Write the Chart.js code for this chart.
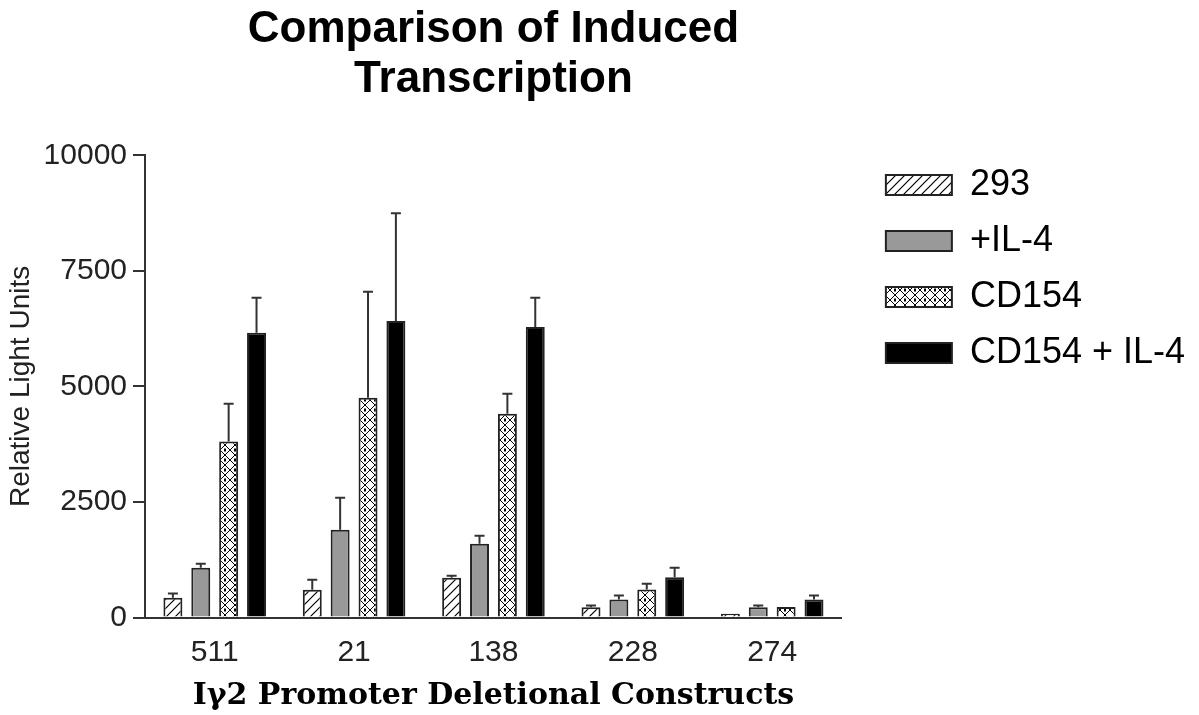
<!DOCTYPE html>
<html>
<head>
<meta charset="UTF-8">
<script src="https://cdn.jsdelivr.net/npm/chart.js@4.4.1/dist/chart.umd.min.js"></script>
<style>
  html, body { margin: 0; padding: 0; background: #fff; }
  #wrap { width: 1199px; height: 715px; }
</style>
</head>
<body>
<div id="wrap"><canvas id="chart"></canvas></div>
<script>
// categories and values
var categories = ['511', '21', '138', '228', '274'];
var seriesNames = ['293', '+IL-4', 'CD154', 'CD154 + IL-4'];
var v293 = [430, 600, 860, 220, 80];
var e293 = [90, 215, 45, 40, 0];
var vIL4 = [1075, 1900, 1595, 390, 223];
var eIL4 = [90, 690, 175, 85, 35];
var vCD154 = [3810, 4755, 4410, 605, 225];
var eCD154 = [815, 2295, 430, 125, 0];
var vBoth = [6160, 6415, 6285, 870, 390];
var eBoth = [760, 2330, 635, 205, 85];
var yTicks = [0, 2500, 5000, 7500, 10000];

// fill patterns
function hatchPattern() {
  var c = document.createElement('canvas');
  c.width = 9; c.height = 9;
  var g = c.getContext('2d');
  g.fillStyle = '#fff';
  g.fillRect(0, 0, 9, 9);
  g.strokeStyle = '#000';
  g.lineWidth = 1.2;
  g.beginPath();
  g.moveTo(-1, 10); g.lineTo(10, -1);
  g.moveTo(-1, 1); g.lineTo(1, -1);
  g.moveTo(8, 10); g.lineTo(10, 8);
  g.stroke();
  return g.createPattern(c, 'repeat');
}

function crossPattern() {
  var c = document.createElement('canvas');
  c.width = 10; c.height = 10;
  var g = c.getContext('2d');
  g.fillStyle = '#fff';
  g.fillRect(0, 0, 10, 10);
  g.strokeStyle = '#000';
  g.lineWidth = 1;
  g.beginPath();
  g.moveTo(0, 0); g.lineTo(10, 10);
  g.moveTo(0, 10); g.lineTo(10, 0);
  g.stroke();
  g.fillStyle = '#000';
  g.fillRect(4, 0, 2, 1.5);
  g.fillRect(4, 8.5, 2, 1.5);
  return g.createPattern(c, 'repeat');
}

// upper error whiskers, placed with the chart's own scales
var errorBars = {
  id: 'errorBars',
  afterDatasetsDraw: function(chart) {
    var ctx = chart.ctx;
    var y = chart.scales.y;
    ctx.save();
    ctx.strokeStyle = '#333';
    ctx.lineWidth = 2;
    chart.data.datasets.forEach(function(ds, i) {
      var meta = chart.getDatasetMeta(i);
      meta.data.forEach(function(bar, j) {
        var err = ds.errors[j];
        if (!err) return;
        var top = y.getPixelForValue(ds.data[j] + err);
        ctx.beginPath();
        ctx.moveTo(bar.x, bar.y);
        ctx.lineTo(bar.x, top);
        ctx.moveTo(bar.x - 5, top);
        ctx.lineTo(bar.x + 5, top);
        ctx.stroke();
      });
    });
    ctx.restore();
  }
};

var barStyle = { borderColor: '#222', borderWidth: 2, borderSkipped: 'start',
                 categoryPercentage: 0.8, barPercentage: 0.68 };

var ctx = document.getElementById('chart');
new Chart(ctx, {
  type: 'bar',
  data: {
    labels: categories,
    datasets: [
      Object.assign({ label: seriesNames[0], data: v293, errors: e293, backgroundColor: hatchPattern() }, barStyle),
      Object.assign({ label: seriesNames[1], data: vIL4, errors: eIL4, backgroundColor: '#999999' }, barStyle),
      Object.assign({ label: seriesNames[2], data: vCD154, errors: eCD154, backgroundColor: crossPattern() }, barStyle),
      Object.assign({ label: seriesNames[3], data: vBoth, errors: eBoth, backgroundColor: '#000000' }, barStyle)
    ]
  },
  plugins: [errorBars],
  options: {
    responsive: true,
    maintainAspectRatio: false,
    animation: false,
    layout: { padding: { left: 0, right: 4, top: 0, bottom: 0 } },
    plugins: {
      tooltip: { enabled: false },
      title: {
        display: true,
        fullSize: false,
        text: ['Comparison of Induced', 'Transcription'],
        color: '#000',
        font: { family: 'Liberation Sans', size: 44, weight: 'bold', lineHeight: 1.14 },
        padding: { top: 5, bottom: 50 }
      },
      legend: {
        display: true,
        position: 'right',
        align: 'start',
        fullSize: true,
        maxWidth: 340,
        title: { display: true, text: '', font: { size: 10, lineHeight: 1.2 }, padding: { top: 135, bottom: 0 } },
        labels: {
          boxWidth: 66,
          boxHeight: 20,
          padding: 20,
          color: '#000',
          font: { family: 'Liberation Sans', size: 36 }
        }
      }
    },
    scales: {
      x: {
        grid: { display: false, drawTicks: true, tickLength: 15 },
        border: { display: true, color: '#333', width: 2 },
        ticks: { color: '#222', padding: 2, font: { family: 'Liberation Sans', size: 30, lineHeight: 1.2 } },
        title: {
          display: true,
          text: 'Iγ2 Promoter Deletional Constructs',
          color: '#000',
          font: { family: 'DejaVu Serif', size: 30, weight: 'bold', lineHeight: 1.15 },
          padding: { top: 6, bottom: 2 }
        }
      },
      y: {
        min: 0,
        max: 10000,
        afterBuildTicks: function(scale) {
          scale.ticks = yTicks.map(function(v) { return { value: v }; });
        },
        grid: { display: true, drawOnChartArea: false, drawTicks: true, tickLength: 12, color: '#333', lineWidth: 2 },
        border: { display: true, color: '#333', width: 2 },
        ticks: {
          color: '#222',
          padding: 6,
          font: { family: 'Liberation Sans', size: 30 },
          callback: function(v) { return String(v); }
        },
        title: {
          display: true,
          text: 'Relative Light Units',
          color: '#222',
          font: { family: 'Liberation Sans', size: 28, lineHeight: 1.2 },
          padding: { top: 4, bottom: 0 }
        }
      },
      y2: {
        position: 'right',
        display: true,
        grid: { display: false },
        border: { display: false },
        ticks: { display: false },
        afterFit: function(scale) { scale.width = 24; }
      }
    }
  }
});
</script>
</body>
</html>
